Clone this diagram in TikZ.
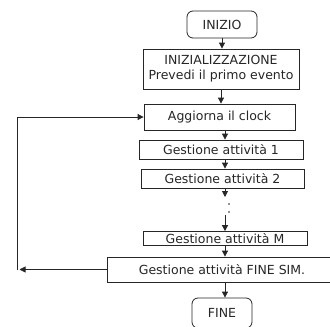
\documentclass[tikz,border=0pt]{standalone}
\usepackage{fontspec}
\setmainfont{DejaVu Sans}
\usetikzlibrary{arrows.meta}
\begin{document}
\begin{tikzpicture}[x=1pt,y=-1pt,
  every node/.style={font=\fontsize{12.5}{15}\selectfont, inner sep=0pt, text=black!85},
  box/.style={draw=black!85, line width=0.8pt, align=center},
  term/.style={box, rounded corners=6pt},
  flow/.style={draw=black!85, line width=0.8pt, -{Triangle[length=6pt,width=6pt]}},
  link/.style={draw=black!85, line width=0.8pt}]
\useasboundingbox (0,0) rectangle (330,327);
\clip (0,0) rectangle (330,327);

% main column of steps
\node[term, minimum width=70pt, minimum height=27pt] (inizio) at (222,24.5) {INIZIO};
\node[box, minimum width=156pt, minimum height=40pt] (init) at (221,69)
  {INIZIALIZZAZIONE\\Prevedi il primo evento};
\node[box, minimum width=151pt, minimum height=26pt] (clock) at (219.5,117) {Aggiorna il clock};
\node[box, minimum width=164pt, minimum height=19pt] (g1) at (221,149.5) {Gestione attività 1};
\node[box, minimum width=163pt, minimum height=19pt] (g2) at (222.5,178.5) {Gestione attività 2};
\node[box, minimum width=164pt, minimum height=14pt] (gm) at (225,238.5) {Gestione attività M};
\node[box, minimum width=230pt, minimum height=25pt] (finesim) at (222,269.5) {Gestione attività FINE SIM.};
\node[term, minimum width=60pt, minimum height=30pt] (fine) at (222,313) {FINE};

% reference points for the connectors
\coordinate (col) at (225,0);
\coordinate (gapTop) at (225,197);
\coordinate (gapBot) at (225,215);
\coordinate (back) at (19.5,269.5);
\coordinate (rail) at (17,269.5);

% forward flow
\draw[flow] (inizio.south) -- (inizio.south |- init.north);
\draw[flow] (init.south) -- (init.south |- clock.north);
\draw[flow] (clock.south -| col) -- (g1.north -| col);
\draw[flow] (g1.south -| col) -- (g2.north -| col);
\draw[flow] (g2.south -| col) -- (gapTop);
\fill[black!85] (229,204) circle (0.9pt) (229,212) circle (0.9pt);
\draw[flow] (gapBot) -- (gm.north -| col);
\draw[flow] (gm.south -| col) -- (finesim.north -| col);
\draw[flow] (finesim.south -| col) -- (fine.north -| col);

% loop back to the clock update
\draw[flow] (finesim.west) -- (back);
\draw[flow] (rail) |- (clock.west);
\end{tikzpicture}
\end{document}
